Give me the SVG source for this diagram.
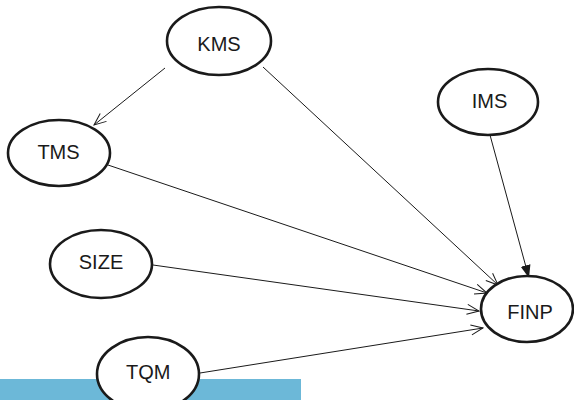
<svg xmlns="http://www.w3.org/2000/svg" width="574" height="400" viewBox="0 0 574 400">
<style>
.n{fill:#fff;stroke:#1a1a1a;stroke-width:2.6}
.t{font-family:"Liberation Sans",Arial,sans-serif;font-size:20px;fill:#1a1a1a;text-anchor:middle}
.e{stroke:#1a1a1a;stroke-width:1;fill:none}
</style>
<defs>
<marker id="open" markerWidth="14" markerHeight="12" refX="13" refY="6" orient="auto" markerUnits="userSpaceOnUse">
<path d="M1,1 L13,6 L1,11" fill="none" stroke="#1a1a1a" stroke-width="1"/>
</marker>
<marker id="solid" markerWidth="14" markerHeight="12" refX="13" refY="6" orient="auto" markerUnits="userSpaceOnUse">
<path d="M0,1 L13,6 L0,11 Z" fill="#1a1a1a"/>
</marker>
</defs>
<rect x="0" y="379" width="301" height="21" fill="#6cb8d8"/>
<g id="connectors">
<line class="e" x1="165" y1="68" x2="94" y2="125" marker-end="url(#open)"/>
<line class="e" x1="263" y1="67" x2="498" y2="285" marker-end="url(#open)"/>
<line class="e" x1="490" y1="135" x2="529" y2="278" marker-end="url(#solid)"/>
<line class="e" x1="108" y1="165" x2="487" y2="293" marker-end="url(#open)"/>
<line class="e" x1="153" y1="265" x2="479" y2="311" marker-end="url(#open)"/>
<line class="e" x1="200" y1="373" x2="483" y2="328" marker-end="url(#open)"/>
</g>
<g id="KMS"><ellipse class="n" cx="219" cy="41" rx="52" ry="34"/><text class="t" x="219" y="50.7">KMS</text></g>
<g id="TMS"><ellipse class="n" cx="59" cy="153" rx="51" ry="33"/><text class="t" x="58.5" y="159.3">TMS</text></g>
<g id="IMS"><ellipse class="n" cx="488" cy="102" rx="50" ry="33"/><text class="t" x="489.5" y="107.7">IMS</text></g>
<g id="SIZE"><ellipse class="n" cx="101" cy="264" rx="51" ry="34"/><text class="t" x="101" y="269.3">SIZE</text></g>
<g id="FINP"><ellipse class="n" cx="527" cy="309" rx="46" ry="33"/><text class="t" x="530" y="319.3">FINP</text></g>
<g id="TQM"><ellipse class="n" cx="148" cy="374" rx="51" ry="37"/><text class="t" x="148.3" y="379.3">TQM</text></g>
</svg>
